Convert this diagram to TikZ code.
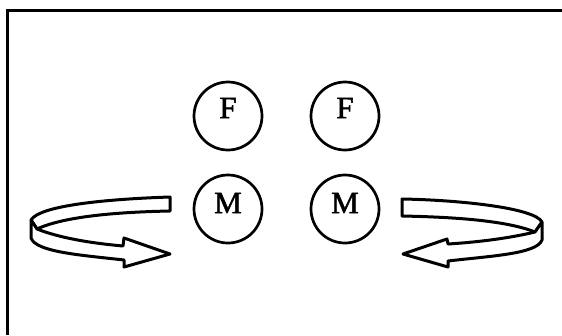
\documentclass[tikz,border=0pt]{standalone}
\usepackage{fontspec}
\setmainfont{Liberation Serif}
\newfontfamily\letterfont[FakeBold=1.6]{Liberation Serif}
\tikzset{
    person/.style={draw,circle,line width=2.7pt,minimum size=68pt,inner sep=0pt,font=\fontsize{31}{31}\letterfont},
    turn/.style={draw,line width=3pt,line join=round,fill=white}
}
\begin{document}
\begin{tikzpicture}[x=1pt,y=-1pt]
    \useasboundingbox (0,0) rectangle (562,335);
    %frame
    \draw[line width=3pt] (7,335) -- (7,10) -- (562,10);
    %couples
    \node[person] (f1) at (228,116) {\raisebox{16pt}{F}};
    \node[person] (f2) at (345,116) {\raisebox{16pt}{F}};
    \node[person] (m1) at (228,209) {\raisebox{12pt}{M}};
    \node[person] (m2) at (345,209) {\raisebox{12pt}{M}};
    %left arrow
    \draw[turn] (170,197) .. controls (110,199) and (40,205) .. (31,220)
        -- (37,229) .. controls (65,216) and (120,212) .. (170,211) -- cycle;
    \draw[turn] (31,220) -- (31,238) .. controls (36,252) and (80,255) .. (124,260)
        -- (124,267) -- (170,254) -- (124,238) -- (123,246)
        .. controls (90,243) and (60,238) .. (37,229) -- cycle;
    %right arrow
    \draw[turn] (402,199) .. controls (460,200) and (535,208) .. (542,222)
        -- (535,232) .. controls (505,220) and (450,217) .. (402,216) -- cycle;
    \draw[turn] (542,222) -- (542,240) .. controls (537,254) and (490,256) .. (448,261)
        -- (448,267) -- (403,254) -- (447,239) -- (448,244)
        .. controls (480,242) and (510,238) .. (535,232) -- cycle;
\end{tikzpicture}
\end{document}
